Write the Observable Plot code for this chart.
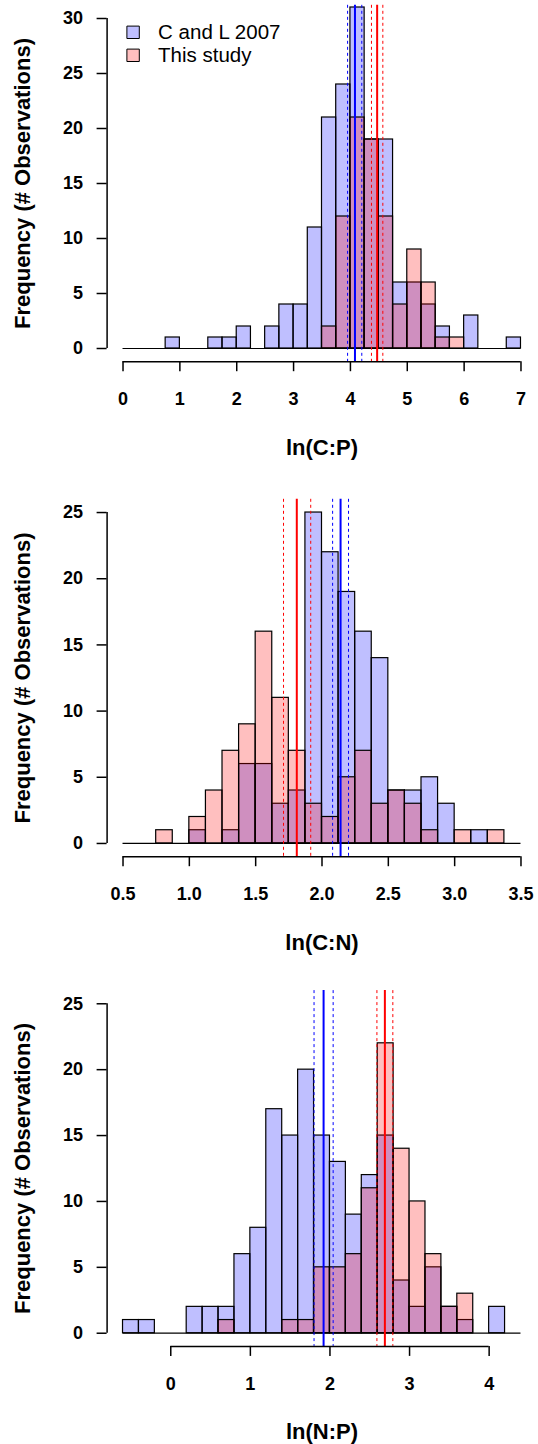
<!DOCTYPE html>
<html>
<head>
<meta charset="utf-8">
<script src="https://cdn.jsdelivr.net/npm/d3@7"></script>
<script src="https://cdn.jsdelivr.net/npm/@observablehq/plot@0.6"></script>
<style>
  body { margin: 0; background: #fff; }
  #chart { width: 538px; }
  #chart svg { display: block; }
</style>
</head>
<body>
<div id="chart"></div>
<script>
// ---------- DATA ----------
const seriesNames = ["C and L 2007", "This study"];
const yTitle = "Frequency (# Observations)";

// Panel 1: ln(C:P), bins of 0.25 from 0 to 7
const cpStart = 0, cpBinWidth = 0.25;
const cpBlue = [0,0,0,1, 0,0,1,1, 2,0,2,4, 4,11,21,24, 31,19,19,6, 6,4,2,0, 3,0,0,1];
const cpRed  = [0,0,0,0, 0,0,0,0, 0,0,0,0, 0,0,2,12, 21,19,12,4, 9,6,1,1, 0,0,0,0];
const cpBlueMean = 4.08, cpBlueCI = [3.95, 4.20];
const cpRedMean = 4.47, cpRedCI = [4.37, 4.57];
const cpXTicks = [0, 1, 2, 3, 4, 5, 6, 7];
const cpYTicks = [0, 5, 10, 15, 20, 25, 30];
const cpLabel = "ln(C:P)";

// Panel 2: ln(C:N), bins of 0.125 from 0.5 to 3.5
const cnStart = 0.5, cnBinWidth = 0.125;
const cnBlue = [0,0,0,0, 1,0,1,6, 6,3,4,25, 22,19,16,14, 4,4,5,3, 0,1,0,0];
const cnRed  = [0,0,1,0, 2,4,7,9, 16,11,7,3, 2,5,7,3, 4,3,1,0, 1,0,1,0];
const cnBlueMean = 2.14, cnBlueCI = [2.08, 2.20];
const cnRedMean = 1.81, cnRedCI = [1.71, 1.915];
const cnXTicks = [0.5, 1.0, 1.5, 2.0, 2.5, 3.0, 3.5];
const cnYTicks = [0, 5, 10, 15, 20, 25];
const cnLabel = "ln(C:N)";

// Panel 3: ln(N:P), bins of 0.2 from -0.6 to 4.4
const npStart = -0.6, npBinWidth = 0.2;
const npBlue = [1,1,0,0,2,2,2,6,8,17,15,20,15,13,9,12,15,4,2,5,2,1,0,2,0];
const npRed  = [0,0,0,0,0,0,1,0,0,0,1,1,5,5,6,11,22,14,10,6,2,3,0,0,0];
const npBlueMean = 1.92, npBlueCI = [1.80, 2.04];
const npRedMean = 2.69, npRedCI = [2.59, 2.79];
const npXTicks = [0, 1, 2, 3, 4];
const npYTicks = [0, 5, 10, 15, 20, 25];
const npLabel = "ln(N:P)";

// ---------- DRAWING ----------
const BLUE = "#0000ff", RED = "#ff0000";
const FONT = "'Liberation Sans', Arial, Helvetica, sans-serif";

function bins(start, w, counts) {
  return counts.map((c, i) => ({x1: start + i * w, x2: start + (i + 1) * w, n: c}));
}

function panel(cfg) {
  const {start, w, blue, red, blueMean, blueCI, redMean, redCI,
         xTicks, xFormat, yTicks, label, height, marginTop, marginBottom, legend} = cfg;
  const lo = start, hi = start + blue.length * w;
  const xpad = 0.04 * (hi - lo);
  const yMax = yTicks[yTicks.length - 1];
  const ypad = 0.04 * yMax;
  const xDom = [lo - xpad, hi + xpad];
  const yDom = [-ypad, yMax + ypad];

  const marks = [
    Plot.rect(bins(start, w, blue), {x1: "x1", x2: "x2", y1: 0, y2: "n",
      fill: BLUE, fillOpacity: 0.25, stroke: "#000", strokeWidth: 1.2}),
    Plot.rect(bins(start, w, red), {x1: "x1", x2: "x2", y1: 0, y2: "n",
      fill: RED, fillOpacity: 0.25, stroke: "#000", strokeWidth: 1.2}),
    Plot.ruleY([0], {x1: lo, x2: hi, stroke: "#000", strokeWidth: 1.2}),
    Plot.ruleX(blueCI, {stroke: BLUE, strokeWidth: 1, strokeDasharray: "3,3"}),
    Plot.ruleX([blueMean], {stroke: BLUE, strokeWidth: 2}),
    Plot.ruleX(redCI, {stroke: RED, strokeWidth: 1, strokeDasharray: "3,3"}),
    Plot.ruleX([redMean], {stroke: RED, strokeWidth: 2}),
    // axes (R style)
    Plot.ruleY([yDom[0]], {x1: xTicks[0], x2: xTicks[xTicks.length - 1], stroke: "#000", strokeWidth: 1.5}),
    Plot.ruleX([xDom[0]], {y1: yTicks[0], y2: yMax, stroke: "#000", strokeWidth: 1.5}),
    Plot.axisX({ticks: xTicks, tickFormat: xFormat, tickSize: 10, tickPadding: 21,
      strokeWidth: 1.5, fontSize: 18, fontWeight: "bold", label: null}),
    Plot.axisY({ticks: yTicks, tickFormat: d => d, tickSize: 10, tickPadding: 14,
      strokeWidth: 1.5, fontSize: 18, fontWeight: "bold", label: null}),
    Plot.text([label], {text: d => d, frameAnchor: "bottom", dy: 86, lineAnchor: "middle",
      fontSize: 22, fontWeight: "bold", fill: "#000"}),
    Plot.text([yTitle], {text: d => d, frameAnchor: "left", rotate: -90, dx: -84,
      lineAnchor: "middle", textAnchor: "middle", fontSize: 22, fontWeight: "bold", fill: "#000"})
  ];

  if (legend) {
    const fills = [BLUE, RED];
    seriesNames.forEach((name, i) => {
      marks.push(Plot.dot([name], {frameAnchor: "top-left", dx: 26, dy: 27 + i * 23,
        symbol: "square", r: 7, fill: fills[i], fillOpacity: 0.25, stroke: "#000", strokeWidth: 1}));
      marks.push(Plot.text([name], {text: d => d, frameAnchor: "top-left", dx: 51, dy: 27 + i * 23,
        textAnchor: "start", lineAnchor: "middle", fontSize: 20.5, fontWeight: "normal", fill: "#000"}));
    });
  }

  return Plot.plot({
    width: 538,
    height,
    marginLeft: 106.6,
    marginRight: 1.6,
    marginTop,
    marginBottom,
    style: {fontFamily: FONT, color: "#000", background: "#fff", overflow: "visible"},
    x: {domain: xDom},
    y: {domain: yDom},
    marks
  });
}

const chart = document.getElementById("chart");
chart.append(panel({start: cpStart, w: cpBinWidth, blue: cpBlue, red: cpRed,
  blueMean: cpBlueMean, blueCI: cpBlueCI, redMean: cpRedMean, redCI: cpRedCI,
  xTicks: cpXTicks, xFormat: d => d, yTicks: cpYTicks, label: cpLabel,
  height: 490, marginTop: 4.8, marginBottom: 128.8, legend: true}));
chart.append(panel({start: cnStart, w: cnBinWidth, blue: cnBlue, red: cnRed,
  blueMean: cnBlueMean, blueCI: cnBlueCI, redMean: cnRedMean, redCI: cnRedCI,
  xTicks: cnXTicks, xFormat: d3.format(".1f"), yTicks: cnYTicks, label: cnLabel,
  height: 490, marginTop: 8.8, marginBottom: 123.8, legend: false}));
chart.append(panel({start: npStart, w: npBinWidth, blue: npBlue, red: npRed,
  blueMean: npBlueMean, blueCI: npBlueCI, redMean: npRedMean, redCI: npRedCI,
  xTicks: npXTicks, xFormat: d => d, yTicks: npYTicks, label: npLabel,
  height: 464, marginTop: 10.1, marginBottom: 98.1, legend: false}));
</script>
</body>
</html>
